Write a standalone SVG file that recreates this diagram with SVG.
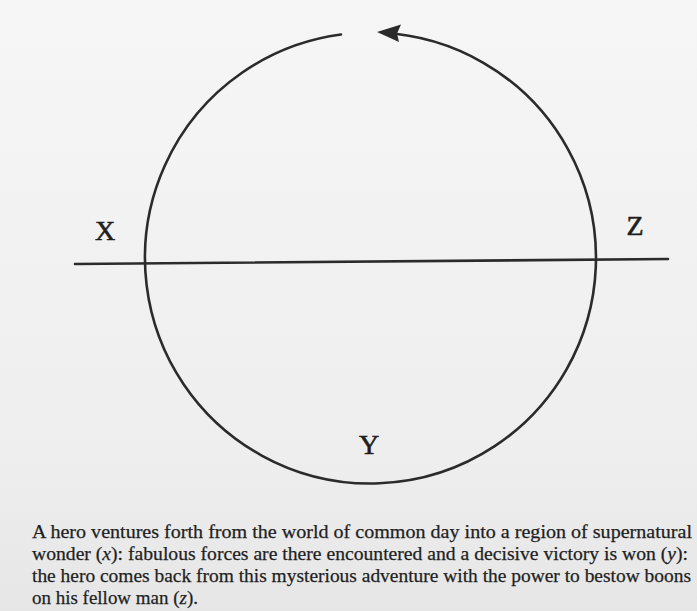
<svg xmlns="http://www.w3.org/2000/svg" width="697" height="611" viewBox="0 0 697 611">
  <style>
    .stroke { fill: none; stroke: #2b2b2b; stroke-width: 2.6; stroke-linecap: round; }
    .label { font-family: "Liberation Serif", "DejaVu Serif", serif; font-size: 28px; fill: #1e1e1e; text-anchor: middle; stroke: #1e1e1e; stroke-width: 0.6; }
    .caption { font-family: "Liberation Serif", "DejaVu Serif", serif; font-size: 18.5px; fill: #1f1f1f; stroke: #1f1f1f; stroke-width: 0.25; }
  </style>
  <defs>
    <linearGradient id="bg" x1="0" y1="0" x2="0" y2="1">
      <stop offset="0" stop-color="#f6f6f6"/>
      <stop offset="0.75" stop-color="#eeeeee"/>
      <stop offset="1" stop-color="#e6e6e6"/>
    </linearGradient>
  </defs>
  <rect x="0" y="0" width="697" height="611" fill="url(#bg)"/>

  <g id="connectors">
    <path id="cycle" class="stroke" d="M 341 34.44 A 225.5 225.5 0 1 0 382 32.8"/>
    <polygon id="arrowhead" points="377,32 401,24.5 397,33.5 399,42" fill="#2b2b2b"/>
    <path id="threshold" class="stroke" d="M 75 264 L 668 259"/>
  </g>

  <g id="node-x"><text class="label" x="105" y="240">X</text></g>
  <g id="node-z"><text class="label" x="635" y="235">Z</text></g>
  <g id="node-y"><text class="label" x="369" y="454">Y</text></g>

  <g id="caption">
    <text class="caption" x="32" y="537.5" textLength="660" lengthAdjust="spacingAndGlyphs">A hero ventures forth from the world of common day into a region of supernatural</text>
    <text class="caption" x="32" y="559.5" textLength="656" lengthAdjust="spacingAndGlyphs">wonder (<tspan font-style="italic">x</tspan>): fabulous forces are there encountered and a decisive victory is won (<tspan font-style="italic">y</tspan>):</text>
    <text class="caption" x="32" y="581.5" textLength="659" lengthAdjust="spacingAndGlyphs">the hero comes back from this mysterious adventure with the power to bestow boons</text>
    <text class="caption" x="32" y="603.5" textLength="166" lengthAdjust="spacingAndGlyphs">on his fellow man (<tspan font-style="italic">z</tspan>).</text>
  </g>
</svg>
